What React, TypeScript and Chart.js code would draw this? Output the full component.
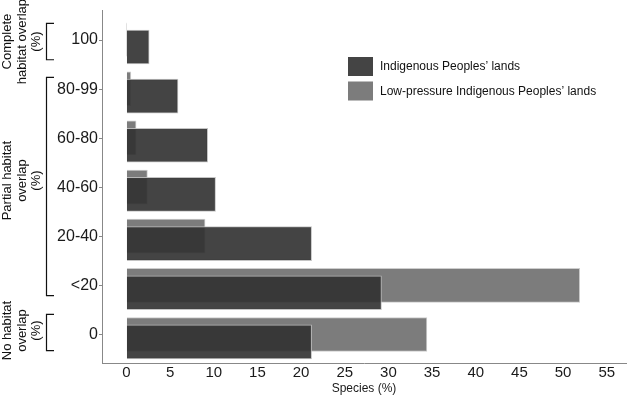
import React, { useEffect, useRef } from "react";
import { Chart, registerables } from "chart.js";

Chart.register(...registerables);

const categories = ["100", "80-99", "60-80", "40-60", "20-40", "<20", "0"];
const indigenous = [2.6, 5.9, 9.3, 10.2, 21.2, 29.2, 21.2];
const lowPressure = [0.05, 0.5, 1.1, 2.4, 9.0, 51.9, 34.4];
const xTickValues = [0, 5, 10, 15, 20, 25, 30, 35, 40, 45, 50, 55];
const seriesLabels = ["Indigenous Peoples\u2019 lands", "Low-pressure Indigenous Peoples\u2019 lands"];
const groupLines = [
  ["Complete", "habitat overlap", "(%)"],
  ["Partial habitat", "overlap", "(%)"],
  ["No habitat", "overlap", "(%)"],
];
const groupRanges = [
  [0, 0],
  [1, 5],
  [6, 6],
];

const FONT = "'Liberation Sans', Arial, Helvetica, sans-serif";
const DARK = "rgba(50,50,50,0.91)";
const DARK_SOLID = "#444444";
const GRAY = "rgb(124,124,124)";

const bracketPads = [
  [-0.34, 0.4],
  [-0.24, 0.2],
  [-0.42, 0.32],
];
const textShift = [0, -6, -2];

const annotations = {
  id: "annotations",
  afterDraw(chart: any) {
    const ctx = chart.ctx as CanvasRenderingContext2D;
    const y = chart.scales.y;
    ctx.save();
    ctx.strokeStyle = "#111";
    ctx.lineWidth = 1.2;
    ctx.fillStyle = "#111";
    ctx.font = `13px ${FONT}`;
    groupRanges.forEach((r, gi) => {
      const top = y.getPixelForValue(r[0] + bracketPads[gi][0]);
      const bot = y.getPixelForValue(r[1] + bracketPads[gi][1]);
      ctx.beginPath();
      ctx.moveTo(54, top);
      ctx.lineTo(46.5, top);
      ctx.lineTo(46.5, bot);
      ctx.lineTo(54, bot);
      ctx.stroke();
      const cy = (top + bot) / 2 + textShift[gi];
      const xs = [7, 22, 36.5];
      groupLines[gi].forEach((line, li) => {
        ctx.save();
        ctx.translate(xs[li], cy);
        ctx.rotate(-Math.PI / 2);
        ctx.textAlign = "center";
        ctx.textBaseline = "middle";
        ctx.fillText(line, 0, 0);
        ctx.restore();
      });
    });
    // legend
    const boxes = [DARK_SOLID, GRAY];
    ctx.font = `12px ${FONT}`;
    ctx.textAlign = "left";
    ctx.textBaseline = "middle";
    boxes.forEach((c, i) => {
      const top = 57 + i * 24.5;
      ctx.fillStyle = c;
      ctx.fillRect(348, top, 25, 19);
      ctx.fillStyle = "#111";
      ctx.fillText(seriesLabels[i], 380, top + 10);
    });
    ctx.restore();
  },
};

export default function App() {
  const ref = useRef<HTMLCanvasElement | null>(null);
  useEffect(() => {
    if (!ref.current) return;
    Chart.defaults.font.family = FONT;
    const chart = new Chart(ref.current, {
      type: "bar",
      data: {
        datasets: [
          {
            label: seriesLabels[0],
            data: categories.map((_, i) => ({ x: indigenous[i], y: i + 0.14 })),
            backgroundColor: DARK,
            borderColor: "rgba(190,190,190,0.9)",
            borderWidth: 1,
            barThickness: 34,
            grouped: false,
            order: 0,
          } as any,
          {
            label: seriesLabels[1],
            data: categories.map((_, i) => ({ x: lowPressure[i], y: i - 0.01 })),
            backgroundColor: GRAY,
            borderColor: "rgba(200,200,200,0.9)",
            borderWidth: 1,
            barThickness: 34,
            grouped: false,
            order: 1,
          } as any,
        ],
      },
      options: {
        indexAxis: "y",
        animation: false,
        responsive: false,
        layout: { padding: { top: 7, right: 4, left: 0, bottom: 0 } },
        plugins: { legend: { display: false }, tooltip: { enabled: false } },
        scales: {
          y: {
            type: "linear",
            reverse: true,
            offset: false,
            min: -0.6,
            max: 6.57,
            afterFit: (s: any) => {
              s.width = 102;
            },
            afterBuildTicks: (s: any) => {
              s.ticks = categories.map((_, i) => ({ value: i }));
            },
            ticks: {
              autoSkip: false,
              padding: 1,
              color: "#1a1a1a",
              font: { size: 16 },
              callback: (v: any) => categories[Math.round(Number(v))] ?? "",
            },
            grid: { drawOnChartArea: false, drawTicks: true, tickLength: 3, color: "#888", offset: false },
            border: { display: true, color: "#888", width: 1 },
          },
          x: {
            type: "linear",
            min: -2.8,
            max: 57.2,
            afterFit: (s: any) => {
              s.height = 39;
            },
            afterBuildTicks: (s: any) => {
              s.ticks = xTickValues.map((v) => ({ value: v }));
            },
            ticks: {
              autoSkip: false,
              maxRotation: 0,
              padding: 1,
              color: "#1a1a1a",
              font: { size: 15 },
            },
            grid: { drawOnChartArea: false, drawTicks: false, color: "#888" },
            border: { display: true, color: "#888", width: 1 },
            title: {
              display: true,
              text: "Species (%)",
              color: "#1a1a1a",
              font: { size: 12 },
              padding: { top: 0, bottom: 6 },
            },
          },
        },
      } as any,
      plugins: [annotations],
    });
    return () => chart.destroy();
  }, []);
  return (
    <div style={{ position: "fixed", left: 0, top: 0, width: 630, height: 402, background: "#fff" }}>
      <canvas ref={ref} width={630} height={402} style={{ display: "block" }} />
    </div>
  );
}
